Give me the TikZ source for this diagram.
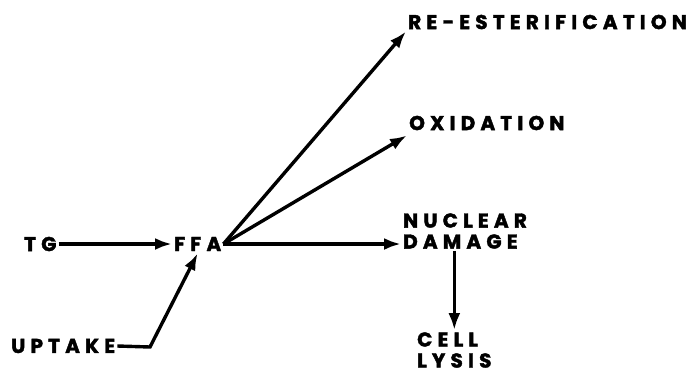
\documentclass[tikz,border=0pt]{standalone}
\usepackage{fontspec}
\newfontfamily\diagfont{Poppins}[LetterSpace=26, FakeBold=2]
\usetikzlibrary{arrows.meta}

\tikzset{
    label/.style={font=\diagfont\bfseries\fontsize{20}{21}\selectfont, inner sep=2pt, align=left},
    flow/.style={line width=3.4pt, -{Latex[length=17pt,width=12pt]}}
}

\begin{document}
\begin{tikzpicture}[x=1pt, y=-1pt]
    \useasboundingbox (0,0) rectangle (689,373);

    % substances and fates
    \node[label, anchor=west] (tg) at (22,244) {TG};
    \node[label, anchor=west] (ffa) at (172,244) {FFA};
    \node[label, anchor=west] (uptake) at (9,346) {UPTAKE};
    \node[label, anchor=west] (reest) at (406,22) {RE-ESTERIFICATION};
    \node[label, anchor=west] (oxid) at (407,123) {OXIDATION};
    \node[label, anchor=west] (nuclear) at (401,231) {NUCLEAR\\DAMAGE};
    \node[label, anchor=west] (lysis) at (415,350) {CELL\\LYSIS};

    \coordinate (bend) at (150,347);

    % arrows
    \draw[flow] (tg) -- (ffa);
    \draw[flow] (uptake.east) -- (bend) -- (ffa.south);
    \draw[flow] (ffa.east) -- (reest.south west);
    \draw[flow] (ffa.east) -- ([yshift=-3pt]oxid.south west);
    \draw[flow] (ffa.east) -- (ffa.east -| nuclear.west);
    \draw[flow] (nuclear.south -| lysis.north) -- (lysis.north);
\end{tikzpicture}
\end{document}
